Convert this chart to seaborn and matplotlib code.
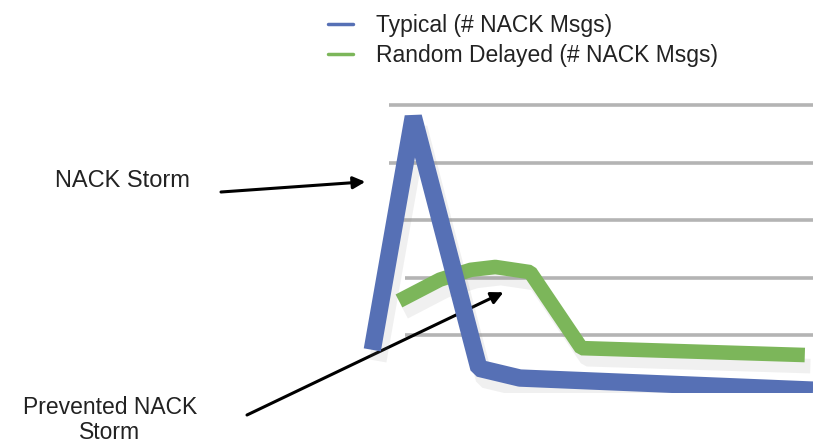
import pandas as pd
import seaborn as sns
import matplotlib.pyplot as plt
from matplotlib.lines import Line2D
import matplotlib.patheffects as pe

# time step (arbitrary units) and NACK message counts
typical_x = [0.0, 1.0, 2.6, 3.6, 10.75]
typical_y = [0.75, 4.8, 0.43, 0.26, 0.05]
delayed_x = [0.65, 1.65, 2.4, 3.0, 3.85, 5.1, 10.55]
delayed_y = [1.6, 1.97, 2.14, 2.19, 2.1, 0.78, 0.66]
grid_levels = [1, 2, 3, 4, 5]
series_names = ["Typical (# NACK Msgs)", "Random Delayed (# NACK Msgs)"]

BLUE = "#5670b5"
GREEN = "#7cb65a"
TEXT = "#222222"

sns.set_theme(style="white")
plt.rcParams["font.family"] = ["Liberation Sans", "DejaVu Sans"]

df = pd.concat([
    pd.DataFrame({"t": typical_x, "msgs": typical_y, "series": series_names[0]}),
    pd.DataFrame({"t": delayed_x, "msgs": delayed_y, "series": series_names[1]}),
])

fig = plt.figure(figsize=(8.13, 4.46), dpi=100)
ax = fig.add_axes([360 / 813, 53 / 446, 453 / 813, 305 / 446])
ax.set_xlim(-0.3, 10.75)
ax.set_ylim(0, 5.3)

# gridlines
for g in grid_levels:
    ax.hlines(g, 0.4 if g > 2 else 0.8, 10.75, color="#b4b4b4", lw=2.6, zorder=1)

shadow = [pe.SimpleLineShadow(offset=(4, -8), shadow_color="#888888", alpha=0.12),
          pe.Normal()]
sns.lineplot(data=df[df.series == series_names[1]], x="t", y="msgs", color=GREEN,
             lw=10.5, sort=False, ax=ax, zorder=3, legend=False,
             path_effects=shadow, solid_joinstyle="bevel", solid_capstyle="butt")
sns.lineplot(data=df[df.series == series_names[0]], x="t", y="msgs", color=BLUE,
             lw=12.5, sort=False, ax=ax, zorder=4, legend=False,
             path_effects=shadow, solid_joinstyle="bevel", solid_capstyle="butt")
ax.set_axis_off()

handles = [Line2D([], [], color=BLUE, lw=2.5), Line2D([], [], color=GREEN, lw=2.5)]
fig.legend(handles, series_names, loc="upper left", bbox_to_anchor=(311 / 813, 1 + 3 / 446),
           frameon=False, fontsize=16.5, handlelength=1.1, handletextpad=1.0,
           labelspacing=0.3, borderpad=0.25, labelcolor=TEXT)

arrow = dict(arrowstyle="-|>", color="black", lw=2.2, mutation_scale=18,
             shrinkA=0, shrinkB=0)
ax.annotate("", xy=(-0.17, 3.67), xycoords="data",
            xytext=(221 / 813, 1 - 192 / 446), textcoords="figure fraction",
            arrowprops=arrow)
fig.text(122 / 813, 1 - 181 / 446, "NACK Storm", fontsize=17, color=TEXT,
         va="center", ha="center")

ax.annotate("", xy=(3.2, 1.75), xycoords="data",
            xytext=(247 / 813, 1 - 415 / 446), textcoords="figure fraction",
            arrowprops=arrow)
fig.text(110 / 813, 1 - 420 / 446, "Prevented NACK\nStorm", fontsize=16.5,
         color=TEXT, va="center", ha="center", linespacing=1.1)

fig.savefig("out.png", dpi=100)
